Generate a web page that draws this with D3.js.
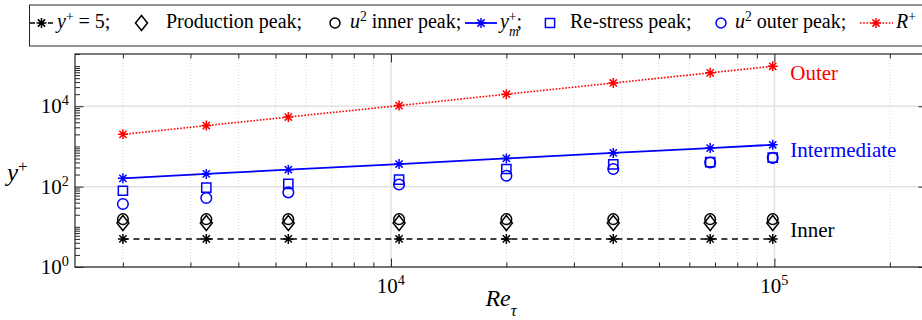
<!DOCTYPE html>
<html>
<head>
<meta charset="utf-8">
<script src="https://cdn.jsdelivr.net/npm/d3@7"></script>
<style>
body { margin: 0; background: #fff; }
svg { display: block; font-family: "Liberation Serif", "Times New Roman", serif; }
</style>
</head>
<body>
<div id="chart"></div>
<script>
// data
var reTau = [2000, 3300, 5400, 10500, 20000, 38000, 68000, 99000];
var yPlus5 = [5, 5, 5, 5, 5, 5, 5, 5];
var productionPeak = [12.4, 12.4, 12.4, 12.4, 12.4, 12.4, 12.4, 12.4];
var u2InnerPeak = [15.5, 15.5, 15.5, 15.5, 15.5, 15.5, 15.5, 15.5];
var ymPlus = [161, 207, 265, 365, 505, 690, 910, 1100];
var reStressPeak = [79, 94, 117, 149, 275, 358, 406, 526];
var u2OuterPeak = [37, 52, 72, 113, 187, 275, 400, 520];
var rPlus = [2000, 3300, 5400, 10400, 20000, 38000, 68000, 99000];

var xTickValues = [1e4, 1e5];
var xTickExp = ["4", "5"];
var yTickValues = [1, 100, 10000];
var yTickExp = ["0", "2", "4"];

var regionNames = ["Outer", "Intermediate", "Inner"];
var regionY = [70000, 850, 8.5];
var regionRe = 1.1e5;

// layout
var width = 922, height = 320;
var plot = {left: 75, top: 54, right: 927, bottom: 267};
var axisColor = "#262626";

var svg = d3.select("#chart")
  .append("svg")
  .attr("width", width)
  .attr("height", height);

var x = d3.scaleLog().domain([1500, 2.5e5]).range([plot.left, plot.right]);
var y = d3.scaleLog().domain([1, 2e5]).range([plot.bottom, plot.top]);

var xMinor = x.ticks().filter(function(t) { return xTickValues.indexOf(t) < 0; });
var yMinor = y.ticks().filter(function(t) { return yTickValues.indexOf(t) < 0; });

// grid
var grid = svg.append("g");
grid.selectAll("line.xminor")
  .data(xMinor)
  .enter().append("line")
    .attr("x1", function(d) { return x(d); })
    .attr("x2", function(d) { return x(d); })
    .attr("y1", plot.top)
    .attr("y2", plot.bottom)
    .attr("stroke", "#cfcfcf")
    .attr("stroke-width", 0.8)
    .attr("stroke-dasharray", "1,2");
grid.selectAll("line.xmajor")
  .data(xTickValues)
  .enter().append("line")
    .attr("x1", function(d) { return x(d); })
    .attr("x2", function(d) { return x(d); })
    .attr("y1", plot.top)
    .attr("y2", plot.bottom)
    .attr("stroke", "#e2e2e2")
    .attr("stroke-width", 1.5);
grid.selectAll("line.ymajor")
  .data(yTickValues)
  .enter().append("line")
    .attr("x1", plot.left)
    .attr("x2", plot.right)
    .attr("y1", function(d) { return y(d); })
    .attr("y2", function(d) { return y(d); })
    .attr("stroke", "#e2e2e2")
    .attr("stroke-width", 1.5);

// axes with inward ticks on all four sides
function styleAxis(g) {
  g.selectAll("path").remove();
  g.selectAll("text").remove();
  g.selectAll("line").attr("stroke", axisColor);
}
svg.append("g").attr("transform", "translate(0," + plot.bottom + ")")
  .call(d3.axisBottom(x).tickValues(xMinor).tickSize(-4.5)).call(styleAxis);
svg.append("g").attr("transform", "translate(0," + plot.bottom + ")")
  .call(d3.axisBottom(x).tickValues(xTickValues).tickSize(-8.5)).call(styleAxis);
svg.append("g").attr("transform", "translate(0," + plot.top + ")")
  .call(d3.axisTop(x).tickValues(xMinor).tickSize(-4.5)).call(styleAxis);
svg.append("g").attr("transform", "translate(0," + plot.top + ")")
  .call(d3.axisTop(x).tickValues(xTickValues).tickSize(-8.5)).call(styleAxis);
svg.append("g").attr("transform", "translate(" + plot.left + ",0)")
  .call(d3.axisLeft(y).tickValues(yMinor).tickSize(-5)).call(styleAxis);
svg.append("g").attr("transform", "translate(" + plot.left + ",0)")
  .call(d3.axisLeft(y).tickValues(yTickValues).tickSize(-8.5)).call(styleAxis);
svg.append("g").attr("transform", "translate(" + plot.right + ",0)")
  .call(d3.axisRight(y).tickValues(yMinor).tickSize(-5)).call(styleAxis);
svg.append("g").attr("transform", "translate(" + plot.right + ",0)")
  .call(d3.axisRight(y).tickValues(yTickValues).tickSize(-8.5)).call(styleAxis);

svg.append("rect")
  .attr("x", plot.left)
  .attr("y", plot.top)
  .attr("width", plot.right - plot.left)
  .attr("height", plot.bottom - plot.top)
  .attr("fill", "none")
  .attr("stroke", axisColor)
  .attr("stroke-width", 1.2);

// rich text helper (italic / super / sub parts)
function richText(sel, parts) {
  parts.forEach(function(p) {
    var t = sel.append("tspan").text(p.t);
    if (p.i) t.style("font-style", "italic");
    if (p.sup) t.attr("baseline-shift", "super").style("font-size", "0.68em");
    if (p.sub) t.attr("baseline-shift", "sub").style("font-size", "0.68em");
    if (p.dx) t.attr("dx", p.dx);
  });
  return sel;
}

// tick labels
yTickValues.forEach(function(v, i) {
  richText(svg.append("text")
    .attr("x", plot.left - 6)
    .attr("y", y(v) + 7)
    .attr("text-anchor", "end")
    .style("font-size", "21px"), [{t: "10"}, {t: yTickExp[i], sup: 1}]);
});
xTickValues.forEach(function(v, i) {
  richText(svg.append("text")
    .attr("x", x(v))
    .attr("y", 293)
    .attr("text-anchor", "middle")
    .style("font-size", "21px"), [{t: "10"}, {t: xTickExp[i], sup: 1}]);
});

// axis labels
richText(svg.append("text")
  .attr("x", (plot.left + plot.right) / 2)
  .attr("y", 306)
  .attr("text-anchor", "middle")
  .style("font-size", "24px"), [{t: "Re", i: 1}, {t: "τ", i: 1, sub: 1}]);
richText(svg.append("text")
  .attr("x", 7)
  .attr("y", 181)
  .style("font-size", "25px"), [{t: "y", i: 1}, {t: "+", sup: 1}]);

// markers
function markerPath(type, r) {
  if (type == "star") {
    var d = r * 0.72;
    return "M" + (-r) + ",0H" + r + "M0," + (-r) + "V" + r +
      "M" + (-d) + "," + (-d) + "L" + d + "," + d +
      "M" + (-d) + "," + d + "L" + d + "," + (-d);
  }
  if (type == "diamond") return "M0," + (-7.5) + "L6,0L0,7.5L-6,0Z";
  if (type == "square") return "M-4.6,-4.6H4.6V4.6H-4.6Z";
  return "M" + (-r) + ",0A" + r + "," + r + " 0 1,0 " + r + ",0A" + r + "," + r + " 0 1,0 " + (-r) + ",0Z";
}

var series = [
  {values: yPlus5, color: "#000", marker: "star", line: "6,4.5", lw: 1.5},
  {values: productionPeak, color: "#000", marker: "diamond"},
  {values: u2InnerPeak, color: "#000", marker: "circle"},
  {values: reStressPeak, color: "#0000ff", marker: "square"},
  {values: u2OuterPeak, color: "#0000ff", marker: "circle"},
  {values: ymPlus, color: "#0000ff", marker: "star", line: null, lw: 1.8},
  {values: rPlus, color: "#ff0000", marker: "star", line: "1.6,1.6", lw: 1.6}
];

var line = d3.line()
  .x(function(d) { return x(d.re); })
  .y(function(d) { return y(d.v); });

series.forEach(function(s) {
  var pts = reTau.map(function(re, i) { return {re: re, v: s.values[i]}; });
  if (s.lw) {
    svg.append("path")
      .attr("d", line(pts))
      .attr("fill", "none")
      .attr("stroke", s.color)
      .attr("stroke-width", s.lw)
      .attr("stroke-dasharray", s.line);
  }
  svg.append("g").selectAll("path")
    .data(pts)
    .enter().append("path")
      .attr("transform", function(d) { return "translate(" + x(d.re) + "," + y(d.v) + ")"; })
      .attr("d", markerPath(s.marker, s.marker == "star" ? 5 : 5.3))
      .attr("fill", "none")
      .attr("stroke", s.color)
      .attr("stroke-width", 1.5);
});

// region labels
var regionColors = ["#ff0000", "#0000ff", "#000"];
svg.selectAll("text.region")
  .data(regionNames)
  .enter().append("text")
    .attr("x", x(regionRe))
    .attr("y", function(d, i) { return y(regionY[i]); })
    .attr("dy", "0.35em")
    .style("font-size", "21px")
    .attr("fill", function(d, i) { return regionColors[i]; })
    .text(function(d) { return d; });

// legend
var leg = svg.append("g");
leg.append("rect")
  .attr("x", 29.5).attr("y", 5)
  .attr("width", 920).attr("height", 41)
  .attr("fill", "#fff")
  .attr("stroke", axisColor)
  .attr("stroke-width", 1);

var legendItems = [
  {sx: [30, 53], dash: "5,4", mx: 41.5, s: 0, tx: 57, parts: [{t: "y", i: 1}, {t: "+", sup: 1}, {t: " = 5;"}]},
  {mx: 141.5, s: 1, tx: 166, parts: [{t: "Production peak;"}]},
  {mx: 335, s: 2, tx: 350, parts: [{t: "u", i: 1}, {t: "2", sup: 1}, {t: " inner peak;"}]},
  {sx: [465, 497], mx: 481, s: 5, tx: 500, parts: [{t: "y", i: 1}, {t: "m", i: 1, sub: 1}, {t: "+", sup: 1, dx: -10}, {t: ";"}]},
  {mx: 550, s: 3, tx: 570, parts: [{t: "Re-stress peak;"}]},
  {mx: 721, s: 4, tx: 735, parts: [{t: "u", i: 1}, {t: "2", sup: 1}, {t: " outer peak;"}]},
  {sx: [860, 893], mx: 876, s: 6, tx: 896, parts: [{t: "R", i: 1}, {t: "+", sup: 1}]}
];
var legY = 23;
legendItems.forEach(function(it) {
  var s = series[it.s];
  if (it.sx) {
    leg.append("line")
      .attr("x1", it.sx[0]).attr("x2", it.sx[1])
      .attr("y1", legY).attr("y2", legY)
      .attr("stroke", s.color)
      .attr("stroke-width", s.lw)
      .attr("stroke-dasharray", it.dash || s.line);
  }
  leg.append("path")
    .attr("transform", "translate(" + it.mx + "," + legY + ")")
    .attr("d", markerPath(s.marker, 5))
    .attr("fill", "none")
    .attr("stroke", s.color)
    .attr("stroke-width", 1.5);
  richText(leg.append("text")
    .attr("x", it.tx)
    .attr("y", 27.5)
    .style("font-size", "20px"), it.parts);
});
</script>
</body>
</html>
